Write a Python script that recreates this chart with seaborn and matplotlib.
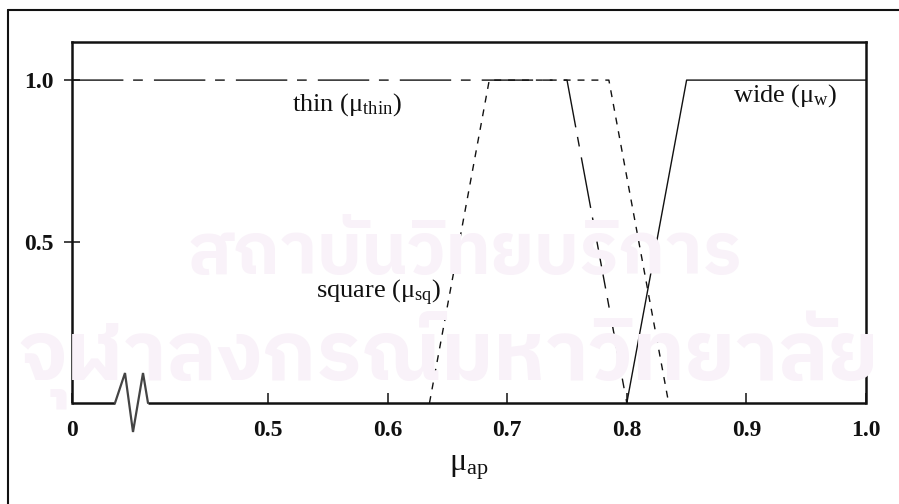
import numpy as np
import pandas as pd
import seaborn as sns
import matplotlib
matplotlib.use("Agg")
import matplotlib.pyplot as plt
from matplotlib import font_manager
from matplotlib.ft2font import FT2Font
from matplotlib.lines import Line2D

# Membership functions of the aspect-ratio measure mu_ap
thin_x = [0.0, 0.75, 0.80]
thin_y = [1.0, 1.0, 0.0]
square_x = [0.635, 0.685, 0.785, 0.835]
square_y = [0.0, 1.0, 1.0, 0.0]
wide_x = [0.80, 0.85, 1.00]
wide_y = [0.0, 1.0, 1.0]

x_ticks = [0.0, 0.5, 0.6, 0.7, 0.8, 0.9, 1.0]
x_tick_labels = ["0", "0.5", "0.6", "0.7", "0.8", "0.9", "1.0"]
y_ticks = [0.5, 1.0]
y_tick_labels = ["0.5", "1.0"]

watermark_lines = ["สถาบันวิทยบริการ", "จุฬาลงกรณ์มหาวิทยาลัย"]

sns.set_theme(style="white")
plt.rcParams["font.family"] = ["Liberation Serif", "DejaVu Serif"]
plt.rcParams["mathtext.fontset"] = "custom"
plt.rcParams["mathtext.rm"] = "Liberation Serif"
plt.rcParams["mathtext.it"] = "Liberation Serif:italic"
plt.rcParams["mathtext.bf"] = "Liberation Serif:bold"

fig = plt.figure(figsize=(8.99, 5.04), dpi=100)
fig.patch.set_facecolor("white")

# faint background watermark, drawn only if a Thai-capable font exists
thai_path = None
for fe in font_manager.fontManager.ttflist:
    try:
        if FT2Font(fe.fname).get_char_index(ord("ก")):
            thai_path = fe.fname
            if "Thai" in fe.name:
                break
    except Exception:
        pass
if thai_path:
    fp = font_manager.FontProperties(fname=thai_path)
    fig.text(0.517, 0.495, watermark_lines[0], fontproperties=fp, fontsize=52,
             color="#f9f2f9", ha="center", va="center", zorder=0)
    fig.text(0.50, 0.285, watermark_lines[1], fontproperties=fp, fontsize=60,
             color="#f9f2f9", ha="center", va="center", zorder=0)

# outer frame (left and top edges)
fig.add_artist(Line2D([8 / 899, 8 / 899], [0, 1 - 10 / 504], color="#111", lw=1.5))
fig.add_artist(Line2D([8 / 899, 1.0], [1 - 10 / 504, 1 - 10 / 504], color="#111", lw=1.5))

ax = fig.add_axes([72 / 899, 1 - 403 / 504, (866 - 72) / 899, (403 - 42) / 504])
ax.patch.set_alpha(0)

# broken x axis: [0, 0.5] compressed, [0.5, 1] linear
k = 0.3278


def fwd(x):
    x = np.asarray(x, dtype=float)
    return np.where(x < 0.5, 0.5 - (0.5 - x) * k, x)


def inv(u):
    u = np.asarray(u, dtype=float)
    return np.where(u < 0.5, 0.5 - (0.5 - u) / k, u)


ax.set_xscale("function", functions=(fwd, inv))
ax.set_xlim(0, 1)
ax.set_ylim(0, 1.118)

df_thin = pd.DataFrame({"x": thin_x, "y": thin_y})
df_sq = pd.DataFrame({"x": square_x, "y": square_y})
df_wide = pd.DataFrame({"x": wide_x, "y": wide_y})

sns.lineplot(data=df_thin, x="x", y="y", ax=ax, color="#111", lw=1.0,
             estimator=None, sort=False)
ax.lines[-1].set_dashes([37, 7, 7, 8])
sns.lineplot(data=df_sq, x="x", y="y", ax=ax, color="#111", lw=1.0,
             estimator=None, sort=False)
ax.lines[-1].set_dashes([5, 5])
sns.lineplot(data=df_wide, x="x", y="y", ax=ax, color="#111", lw=1.0,
             estimator=None, sort=False)
for ln in ax.lines:
    ln.set_clip_on(False)

ax.set_xlabel("")
ax.set_ylabel("")

for side in ["left", "top", "right"]:
    ax.spines[side].set_linewidth(1.8)
    ax.spines[side].set_color("#111")
ax.spines["bottom"].set_visible(False)

# bottom axis line with a break mark
bx0 = (115 - 72) / 794
bx1 = (148 - 72) / 794
ax.plot([0, bx0], [0, 0], transform=ax.transAxes, color="#111", lw=1.8,
        clip_on=False, solid_capstyle="butt")
ax.plot([bx1, 1], [0, 0], transform=ax.transAxes, color="#111", lw=1.8,
        clip_on=False, solid_capstyle="butt")
zx = [(p - 72) / 794 for p in [115, 125, 133, 143, 148]]
zy = [(403 - p) / 361 for p in [403, 373, 432, 373, 403]]
ax.plot(zx, zy, transform=ax.transAxes, color="#444", lw=1.6, clip_on=False,
        solid_joinstyle="miter")

ax.set_xticks(x_ticks)
ax.set_xticklabels(x_tick_labels, fontweight="bold", fontsize=17)
ax.set_yticks(y_ticks)
ax.set_yticklabels(y_tick_labels, fontweight="bold", fontsize=17)
ax.xaxis.set_minor_locator(matplotlib.ticker.NullLocator())
ax.tick_params(axis="x", direction="in", length=7.5, width=1.1, pad=12,
               colors="#111", bottom=True, top=False)
ax.tick_params(axis="y", direction="inout", length=12, width=1.1, pad=7,
               colors="#111", left=True, right=False)

ax.text(0.52, 0.907, r"thin ($\mathrm{\mu}_{\mathrm{thin}}$)", fontsize=19,
        ha="left", va="baseline", color="#111")
ax.text(0.889, 0.932, r"wide ($\mathrm{\mu}_{\mathrm{w}}$)", fontsize=19,
        ha="left", va="baseline", color="#111")
ax.text(0.54, 0.325, r"square ($\mathrm{\mu}_{\mathrm{sq}}$)", fontsize=19,
        ha="left", va="baseline", color="#111")

ax.set_xlabel(r"$\mathrm{\mu}_{\mathrm{ap}}$", fontsize=23, color="#111",
              labelpad=9)

fig.savefig("out.png", dpi=100, facecolor="white")
